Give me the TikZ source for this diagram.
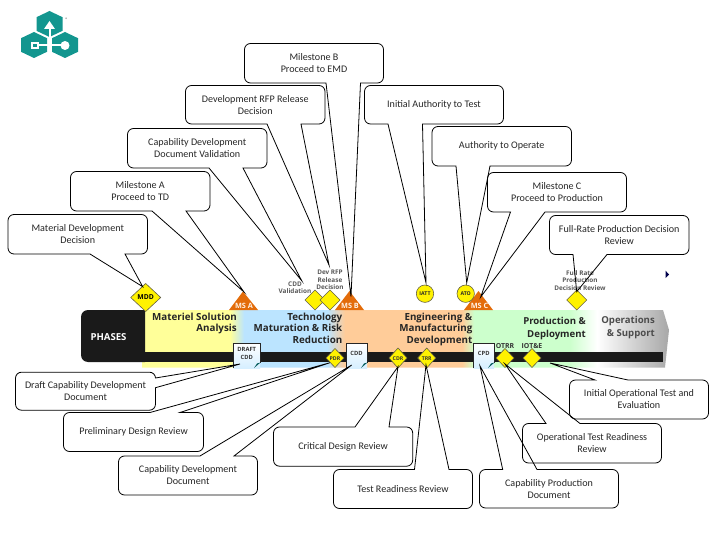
\documentclass[tikz,border=0pt]{standalone}
\usepackage{fontspec}
\setmainfont{Carlito}
\newfontfamily\barfont{Open Sans}
\pgfdeclarelayer{art}
\pgfdeclarelayer{fills}
\pgfsetlayers{art,fills,main}
\definecolor{logoteal}{HTML}{13968F}
\definecolor{ylw}{HTML}{FFFF99}
\definecolor{blu}{HTML}{BBE4FF}
\definecolor{pch}{HTML}{FFCC99}
\definecolor{grn}{HTML}{CCFFCC}
\definecolor{gry}{HTML}{A6A6A6}
\definecolor{barblack}{HTML}{1A1A1A}
\definecolor{msorange}{HTML}{E36C0A}
\tikzset{
  calloutline/.style={draw=black,line width=0.8pt},
  boxtext/.style={align=center,font=\fontsize{10.1}{12}\selectfont,text=black!85,inner sep=0pt,outer sep=0pt},
  phase/.style={font=\barfont\bfseries\fontsize{9.8}{11.6}\selectfont,align=right,inner sep=0pt,text=black!85},
  msmark/.style={fill=msorange,draw=none},
  ddia/.style={fill=yellow,draw=black!70!yellow,line width=0.6pt},
  tiny/.style={font=\barfont\bfseries\fontsize{5.2}{7.3}\selectfont,align=center,inner sep=0pt,text=black!75},
  small/.style={font=\barfont\bfseries\fontsize{6.4}{7.4}\selectfont,align=center,inner sep=0pt,text=black!65},
  mslabel/.style={font=\barfont\bfseries\fontsize{7.3}{8}\selectfont,inner sep=0pt,text=white!90!orange},
  doctext/.style={font=\barfont\bfseries\fontsize{5.8}{8}\selectfont,align=center,inner sep=0pt,text=black!80},
}
\newcommand{\bx}[6]{\node[boxtext,minimum width={(#4)-(#2)},minimum height={(#5)-(#3)}] (#1) at ({((#2)+(#4))/2},{((#3)+(#5))/2-0.5}) {#6};}
\newcommand{\callS}[4]{%
  \begin{pgfonlayer}{fills}\fill[white] (#4) -- (#2,0 |- #1.south) -- (#3,0 |- #1.south) -- cycle;\end{pgfonlayer}
  \draw[calloutline] (#4) -- (#2,0 |- #1.south) [rounded corners=6pt] -- (#1.south west) -- (#1.north west) -- (#1.north east) -- (#1.south east) [sharp corners] -- (#3,0 |- #1.south) -- cycle;}
\newcommand{\callN}[4]{%
  \begin{pgfonlayer}{fills}\fill[white] (#4) -- (#2,0 |- #1.north) -- (#3,0 |- #1.north) -- cycle;\end{pgfonlayer}
  \draw[calloutline] (#4) -- (#2,0 |- #1.north) [rounded corners=6pt] -- (#1.north west) -- (#1.south west) -- (#1.south east) -- (#1.north east) [sharp corners] -- (#3,0 |- #1.north) -- cycle;}
\newcommand{\callE}[4]{%
  \begin{pgfonlayer}{fills}\fill[white] (#4) -- (#1.east |- 0,#2) -- (#1.east |- 0,#3) -- cycle;\end{pgfonlayer}
  \draw[calloutline] (#4) -- (#1.east |- 0,#2) [rounded corners=6pt] -- (#1.north east) -- (#1.north west) -- (#1.south west) -- (#1.south east) [sharp corners] -- (#1.east |- 0,#3) -- cycle;}
\newcommand{\dia}[5]{\draw[ddia] (#2-#4,#3) -- (#2,#3-#5) -- (#2+#4,#3) -- (#2,#3+#5) -- cycle; \node[tiny] (#1) at (#2,#3) {};}
\newcommand{\docicon}[4]{%
  \path[top color=white,bottom color=blu!60] (#2,343) rectangle (#3,368);
  \draw[black!85,line width=0.8pt] (#2,368) -- (#2,343) -- (#3,343) -- (#3,363);
  \fill[teal!70!black] (#3-6,368) -- (#3+0.5,362.5) -- (#3-3,363.5) -- cycle;
  \node[doctext] (#1) at ({(#2+#3)/2},353.5) {#4};}
\begin{document}
\begin{tikzpicture}[x=1pt,y=-1pt]
\useasboundingbox (0,0) rectangle (720,540);
% logo
\foreach \cx/\cy in {49.5/24,34/45,65/45}{
  \fill[logoteal] (\cx,\cy-13) -- (\cx+13,\cy-6.8) -- (\cx+13,\cy+6.8) -- (\cx,\cy+13) -- (\cx-13,\cy+6.8) -- (\cx-13,\cy-6.8) -- cycle;}
\draw[white,line width=2pt] (49.5,46) -- (49.5,28);
\fill[white] (49.5,21) -- (55,29) -- (44,29) -- cycle;
\draw[white,line width=2pt] (38,45.5) -- (62,45.5);
\fill[white] (30.5,42) rectangle (39,49);
\fill[logoteal] (33,44) rectangle (37,47);
\fill[white] (65,45.5) circle (4.5);
\node[font=\fontsize{5}{5}\selectfont,inner sep=0pt,text=black!70] (reg) at (66.7,19.3) {®};
% strip
\begin{pgfonlayer}{art}
\begin{scope}
  \clip (145,310) -- (663,310) -- (669,330) -- (665,367.5) -- (142,367.5) -- (142,362) -- (145,352) -- cycle;
  \fill[ylw] (140,305) rectangle (230,370);
  \shade[left color=ylw,right color=blu] (230,305) rectangle (244,370);
  \fill[blu] (244,305) rectangle (327,370);
  \shade[left color=blu,right color=pch] (327,305) rectangle (345,370);
  \fill[pch] (345,305) rectangle (462,370);
  \shade[left color=pch,right color=grn] (462,305) rectangle (474,370);
  \fill[grn] (474,305) rectangle (570,370);
  \shade[left color=grn,right color=white] (570,305) rectangle (597,370);
  \shade[left color=white,right color=gry] (597,305) rectangle (670,370);
\end{scope}
\fill[barblack] (145,352) rectangle (663,362);
\fill[barblack] (145,362) [rounded corners=7pt] -- (81,362) -- (81,310) [sharp corners] -- (145,310) -- cycle;
\end{pgfonlayer}
\node[font=\barfont\bfseries\fontsize{9.6}{10}\selectfont,text=white,inner sep=0pt] (phases) at (108.5,337) {PHASES};
\node[phase,anchor=north east] (p1) at (237,312.5) {Materiel Solution\\Analysis};
\node[phase,anchor=north east] (p2) at (342.5,312.5) {Technology\\Maturation \& Risk\\Reduction};
\node[phase,anchor=north east] (p3) at (472.5,312.5) {Engineering \&\\Manufacturing\\Development};
\node[phase,anchor=north east,font=\barfont\bfseries\fontsize{9.6}{13}\selectfont] (p4) at (586,317) {Production \&\\Deployment};
\node[phase,anchor=north east,font=\barfont\bfseries\fontsize{9.6}{13}\selectfont,text=black!70] (p5) at (655,316) {Operations\\\& Support};
% milestones
\fill[msmark] (243,291.5) -- (258,310) -- (229,310) -- cycle;
\fill[msmark] (349.5,291) -- (364,310) -- (335,310) -- cycle;
\fill[msmark] (478.5,291) -- (493,310) -- (464,310) -- cycle;
\node[mslabel] (msa) at (244,305.5) {MS A};
\node[mslabel] (msb) at (350,305.5) {MS B};
\node[mslabel] (msc) at (479.5,305.5) {MS C};
% diamonds and circles
\dia{dmdd}{145.7}{297.5}{15}{14}
\node[tiny,font=\barfont\bfseries\fontsize{6.8}{7}\selectfont,text=black] (lmdd) at (145.7,297.5) {MDD};
\dia{dcddv}{315}{300}{10}{10}
\dia{drfp}{330}{300}{10}{10}
\dia{dfrp}{576.7}{300}{10}{10}
\dia{dpdr}{335}{358}{9}{9.5}
\dia{dcdr}{398}{358}{9}{10}
\dia{dtrr}{426.7}{358}{9}{10}
\dia{dotrr}{505}{358}{9}{9.5}
\dia{diot}{532}{358}{9}{9.5}
\node[tiny,fill=none,text=black!80] (lpdr) at (335,358.3) {PDR};
\node[tiny,text=black!80] (lcdr) at (398,358.3) {CDR};
\node[tiny,text=black!80] (ltrr) at (426.7,358.3) {TRR};
\draw[ddia] (425,293.7) circle (8.7);
\draw[ddia] (465.7,293.7) circle (8.7);
\node[tiny,text=black!85] (liatt) at (425,293.7) {IATT};
\node[tiny,text=black!85] (lato) at (465.7,293.7) {ATO};
\node[small] (lcddv) at (295,288) {CDD\\Validation};
\node[small] (lrfp) at (330,280) {Dev RFP\\Release\\Decision};
\node[small] (lfrp) at (580,280.3) {Full Rate\\Production\\Decision Review};
\node[small,font=\barfont\bfseries\fontsize{6.9}{8}\selectfont,text=black!80] (lotrr) at (505,345.7) {OTRR};
\node[small,font=\barfont\bfseries\fontsize{6.9}{8}\selectfont,text=black!80] (liot) at (532,345.7) {IOT\&E};
\docicon{ddraft}{233.5}{260}{DRAFT\\CDD}
\docicon{dcdd}{346}{367}{CDD}
\docicon{dcpd}{473.5}{494}{CPD}
\fill[black!70!blue] (665.5,270.5) -- (667.5,273) -- (669,274.5) -- (667.5,276) -- (665.5,278) -- cycle;
% tips
\coordinate (tmdd) at (142.7,286.7);
\coordinate (tmsa) at (244,292);
\coordinate (tcddv) at (301.7,280.7);
\coordinate (trfp) at (329,265);
\coordinate (tmsb) at (351,296.7);
\coordinate (tiatt) at (426,282.7);
\coordinate (tato) at (466.7,282.7);
\coordinate (tmsc) at (480.7,297);
\coordinate (tfrp) at (576.7,291.7);
\coordinate (tdraft) at (240,364);
\coordinate (tpdr) at (330,362.7);
\coordinate (tcdd) at (351.7,365);
\coordinate (tcdr) at (398,366.7);
\coordinate (ttrr) at (426,365);
\coordinate (tcpd) at (480,366);
\coordinate (totrr) at (505,364);
\coordinate (tiot) at (550,363);
% callouts
\bx{cmdd}{8}{215}{147.5}{254.5}{Material Development\\Decision}
\callS{cmdd}{90}{125}{tmdd}
\bx{cmsa}{70.5}{172}{210}{211.5}{Milestone A\\Proceed to TD}
\callS{cmsa}{152}{186}{tmsa}
\bx{ccddv}{127.5}{129}{267}{168.5}{Capability Development\\Document Validation}
\callS{ccddv}{209}{243}{tcddv}
\bx{crfp}{185.5}{86}{325}{124.5}{Development RFP Release\\Decision}
\callS{crfp}{267}{301}{trfp}
\bx{cmsb}{244.5}{44}{383.5}{83.5}{Milestone B\\Proceed to EMD}
\callS{cmsb}{326}{360.5}{tmsb}
\bx{ciatt}{364.5}{86}{503.5}{124.5}{Initial Authority to Test}
\callS{ciatt}{388}{422.5}{tiatt}
\bx{cato}{432}{127}{571.5}{166.5}{Authority to Operate}
\callS{cato}{456}{490}{tato}
\bx{cmsc}{487.5}{173}{626.5}{212.5}{Milestone C\\Proceed to Production}
\callS{cmsc}{510.5}{545}{tmsc}
\bx{cfrp}{549.5}{216}{689}{255}{Full-Rate Production Decision\\Review}
\callS{cfrp}{573}{607}{tfrp}
\bx{cdraft}{15.5}{372.7}{155.5}{410.7}{Draft Capability Development\\Document}
\callE{cdraft}{378}{387.7}{tdraft}
\bx{cpdr}{63.5}{413}{203.5}{452}{Preliminary Design Review}
\callN{cpdr}{150}{180}{tpdr}
\bx{ccdd}{118.5}{456.5}{257.5}{495.5}{Capability Development\\Document}
\callN{ccdd}{200}{234}{tcdd}
\bx{ccdr}{273.5}{427.5}{412.7}{466.7}{Critical Design Review}
\callN{ccdr}{355}{389}{tcdr}
\bx{ctrr}{333.5}{470}{472.5}{509}{Test Readiness Review}
\callN{ctrr}{414.5}{449}{ttrr}
\bx{ciot}{569.5}{380.5}{708.5}{419.5}{Initial Operational Test and\\Evaluation}
\callN{ciot}{595}{628}{tiot}
\bx{cotrr}{522.5}{424}{661.5}{463.5}{Operational Test Readiness\\Review}
\callN{cotrr}{546}{580}{totrr}
\bx{ccpd}{479.5}{470}{618.5}{508.5}{Capability Production\\Document}
\callN{ccpd}{502.7}{537}{tcpd}
\end{tikzpicture}
\end{document}
